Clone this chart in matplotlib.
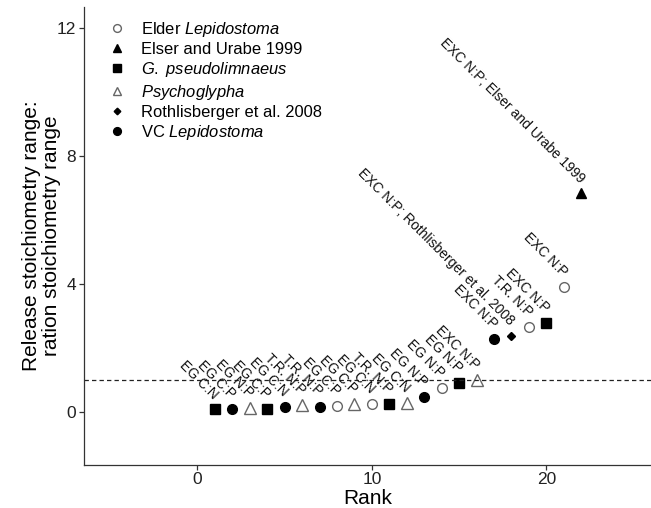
import matplotlib.pyplot as plt

plt.rcParams['font.family'] = ['Liberation Sans', 'DejaVu Sans']
plt.rcParams['mathtext.fontset'] = 'custom'
plt.rcParams['mathtext.rm'] = 'Liberation Sans'
plt.rcParams['mathtext.it'] = 'Liberation Sans:italic'

# rank of each ratio and the release:ration range ratio
rank = list(range(1, 23))
ratio = [0.08, 0.08, 0.13, 0.10, 0.17, 0.21, 0.17, 0.19, 0.25, 0.25, 0.25,
         0.29, 0.46, 0.74, 0.90, 1.00, 2.27, 2.38, 2.65, 2.79, 3.90, 6.83]
group = ['G', 'VC', 'Psy', 'G', 'VC', 'Psy', 'VC', 'Elder', 'Psy', 'Elder', 'G',
         'Psy', 'VC', 'Elder', 'G', 'Psy', 'VC', 'Roth', 'Elder', 'G', 'Elder', 'Elser']
point_labels = ['EG C:N', 'EG C:P', 'EG N:P', 'EG C:P', 'EG C:N', 'T.R. N:P', 'T.R. N:P',
                'EG C:P', 'EG C:P', 'EG C:N', 'T.R. N:P', 'EG C:N', 'EG N:P', 'EG N:P',
                'EG N:P', 'EXC N:P', 'EXC N:P', 'EXC N:P; Rothlisberger et al. 2008',
                'T.R. N:P', 'EXC N:P', 'EXC N:P', 'EXC N:P; Elser and Urabe 1999']

# legend order
legend_keys = ['Elder', 'Elser', 'G', 'Psy', 'Roth', 'VC']
legend_names = [r'Elder $\it{Lepidostoma}$', 'Elser and Urabe 1999',
                r'$\it{G.\ pseudolimnaeus}$', r'$\it{Psychoglypha}$',
                'Rothlisberger et al. 2008', r'VC $\it{Lepidostoma}$']

# marker, face, edge, size
styles = {
    'Elder': ('o', 'none', '#666666', 7),
    'Elser': ('^', 'black', 'black', 7.5),
    'G': ('s', 'black', 'black', 6.5),
    'Psy': ('^', 'none', '#666666', 8),
    'Roth': ('D', 'black', 'black', 4.2),
    'VC': ('o', 'black', 'black', 7),
}

fig = plt.figure(figsize=(6.51, 5.08), dpi=100)
ax = fig.add_axes([0.129, 0.085, 0.871, 0.901])

for key, name in zip(legend_keys, legend_names):
    m, fc, ec, ms = styles[key]
    xs = [r for r, g in zip(rank, group) if g == key]
    ys = [v for v, g in zip(ratio, group) if g == key]
    ax.plot(xs, ys, linestyle='none', marker=m, markerfacecolor=fc,
            markeredgecolor=ec, markersize=ms, markeredgewidth=1.0, label=name)

for r, v, lab in zip(rank, ratio, point_labels):
    ax.text(r + 0.05, v + 0.4, lab, rotation=-45, rotation_mode='anchor',
            ha='right', va='center', fontsize=10, color='#111111')

ax.axhline(1, color='#222222', linewidth=0.9, linestyle=(0, (3.5, 2.5)))

ax.set_xlim(-6.5, 26.0)
ax.set_ylim(-1.65, 12.65)
ax.set_xticks([0, 10, 20])
ax.set_yticks([0, 4, 8, 12])
ax.spines['top'].set_visible(False)
ax.spines['right'].set_visible(False)
for s in ['left', 'bottom']:
    ax.spines[s].set_color('#333333')
    ax.spines[s].set_linewidth(0.9)
ax.tick_params(length=3.5, width=0.9, color='#333333', labelsize=12.5,
               labelcolor='#222222', pad=2)

ax.set_xlabel('Rank', fontsize=15, labelpad=1)
ax.set_ylabel('Release stoichiometry range:\nration stoichiometry range',
              fontsize=15, labelpad=-3, linespacing=1.05)

ax.legend(loc='upper left', bbox_to_anchor=(0.02, 0.998), frameon=False,
          fontsize=11.9, handletextpad=0.85, labelspacing=0.2, borderpad=0.2,
          handlelength=1.2, markerscale=0.8)

fig.savefig('out.png', dpi=100)
